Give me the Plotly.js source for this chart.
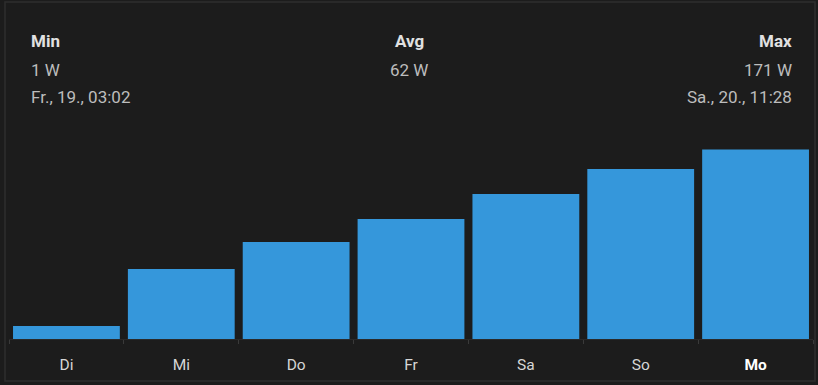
<!DOCTYPE html>
<html>
<head>
<meta charset="utf-8">
<script src="https://cdn.plot.ly/plotly-3.0.1.min.js"></script>
<style>
  html, body { margin: 0; padding: 0; background: #1c1c1c; }
  #chart { width: 818px; height: 385px; }
</style>
</head>
<body>
<div id="chart"></div>
<script>
// Data
const days = ["Di", "Mi", "Do", "Fr", "Sa", "So", "Mo"];
const values = [1.3, 7.0, 9.7, 12.0, 14.5, 17.0, 18.95];
const statLabels = ["Min", "Avg", "Max"];
const statValues = ["1 W", "62 W", "171 W"];
const statTimes = ["Fr., 19., 03:02", "", "Sa., 20., 11:28"];
const currentDay = "Mo";

const W = 818, H = 385;
const L = 9, R = 5, T = 140, B = 46;
const pw = W - L - R, ph = H - T - B;
const px = x => (x - L) / pw;
const py = y => (H - B - y) / ph;

const tickText = days.map(d => d === currentDay ? '<b><span style="color:#ffffff">' + d + '</span></b>' : d);

const annotations = [];
const cols = [{x: 29, anchor: 'left'}, {x: 409, anchor: 'center'}, {x: 794, anchor: 'right'}];
statLabels.forEach((lab, i) => {
  annotations.push({xref: 'paper', yref: 'paper', x: px(cols[i].x), y: py(41), xanchor: cols[i].anchor, yanchor: 'middle',
    text: '<b>' + lab + '</b>', showarrow: false, font: {family: 'Roboto', size: 17, color: '#e1e1e1'}});
  annotations.push({xref: 'paper', yref: 'paper', x: px(cols[i].x), y: py(70), xanchor: cols[i].anchor, yanchor: 'middle',
    text: statValues[i], showarrow: false, font: {family: 'Roboto', size: 17, color: '#bdbdbd'}});
  if (statTimes[i]) {
    annotations.push({xref: 'paper', yref: 'paper', x: px(cols[i].x), y: py(97), xanchor: cols[i].anchor, yanchor: 'middle',
      text: statTimes[i], showarrow: false, font: {family: 'Roboto', size: 17, color: '#bdbdbd'}});
  }
});

const data = [{
  type: 'bar',
  x: days,
  y: values,
  marker: {color: '#3597db', line: {width: 0}},
  hoverinfo: 'none'
}];

const layout = {
  width: W, height: H,
  margin: {l: L, r: R, t: T, b: B},
  paper_bgcolor: '#1c1c1c',
  plot_bgcolor: '#1c1c1c',
  showlegend: false,
  bargap: 0.07,
  xaxis: {
    type: 'category',
    tickmode: 'array',
    tickvals: days,
    ticktext: tickText,
    tickson: 'boundaries',
    ticks: 'outside',
    ticklen: 4,
    tickcolor: '#3a3a3a',
    ticklabelstandoff: 11,
    showline: true,
    linecolor: '#2a2a2a',
    showgrid: false,
    zeroline: false,
    tickfont: {family: 'Roboto', size: 15.5, color: '#d6d6d6'},
    fixedrange: true
  },
  yaxis: {
    range: [0, 19.9],
    visible: false,
    showgrid: false,
    zeroline: false,
    fixedrange: true
  },
  annotations: annotations,
  shapes: [
    {type: 'rect', xref: 'paper', yref: 'paper', x0: px(5), x1: px(815), y0: py(381), y1: py(2),
     line: {color: '#2e2e2e', width: 1.5}, fillcolor: 'rgba(0,0,0,0)', layer: 'below'}
  ]
};

Plotly.newPlot('chart', data, layout, {displayModeBar: false, staticPlot: true});
</script>
</body>
</html>
